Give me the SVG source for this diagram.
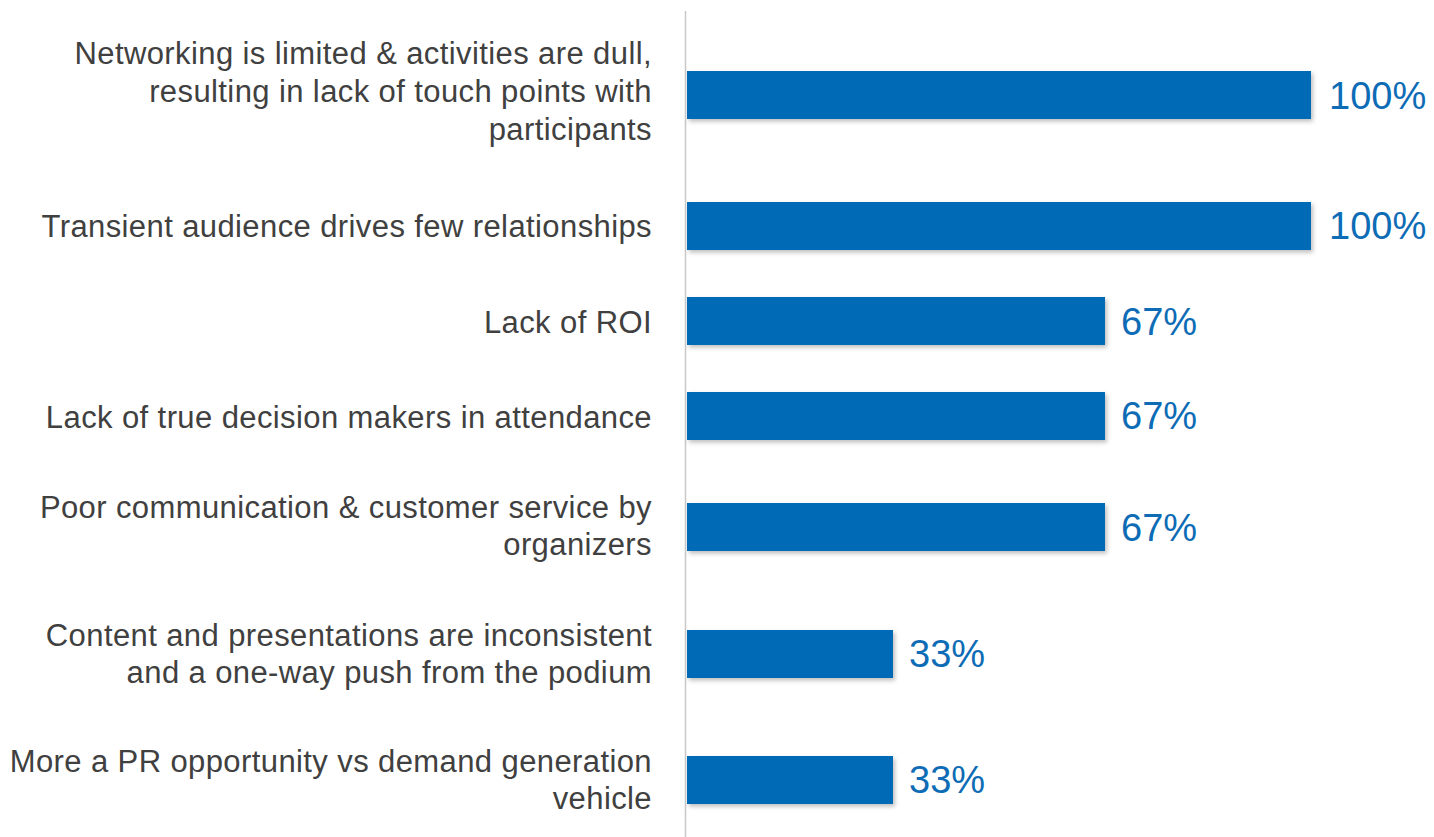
<svg xmlns="http://www.w3.org/2000/svg" width="1434" height="837" viewBox="0 0 1434 837">
<defs>
<filter id="sh" x="-5%" y="-20%" width="110%" height="150%">
<feDropShadow dx="2" dy="2.5" stdDeviation="2" flood-color="#000" flood-opacity="0.25"/>
</filter>
<style>
.lbl{font-family:"Liberation Sans",Arial,Helvetica,sans-serif;font-size:31px;letter-spacing:0.4px;fill:#404040;text-anchor:end}
.val{font-family:"Liberation Sans",Arial,Helvetica,sans-serif;font-size:38px;fill:#0d6cb5}
.bar{fill:#006bb6;filter:url(#sh)}
</style>
</defs>
<rect width="1434" height="837" fill="#ffffff"/>
<g id="axis"><line x1="685.5" y1="11" x2="685.5" y2="837" stroke="#c8c8c8" stroke-width="1.5"/></g>
<g id="bar1">
<text class="lbl" x="652" y="63.5">Networking is limited &amp; activities are dull,</text>
<text class="lbl" x="652" y="101.5">resulting in lack of touch points with</text>
<text class="lbl" x="652" y="139.5">participants</text>
<rect class="bar" x="687" y="71" width="624" height="48"/>
<text class="val" x="1329" y="109.3">100%</text>
</g>
<g id="bar2">
<text class="lbl" x="652" y="237">Transient audience drives few relationships</text>
<rect class="bar" x="687" y="202" width="624" height="48"/>
<text class="val" x="1329" y="239.3">100%</text>
</g>
<g id="bar3">
<text class="lbl" x="652" y="333">Lack of ROI</text>
<rect class="bar" x="687" y="297" width="418" height="48"/>
<text class="val" x="1121" y="335">67%</text>
</g>
<g id="bar4">
<text class="lbl" x="652" y="427.5">Lack of true decision makers in attendance</text>
<rect class="bar" x="687" y="392" width="418" height="48"/>
<text class="val" x="1121" y="429.3">67%</text>
</g>
<g id="bar5">
<text class="lbl" x="652" y="517.5">Poor communication &amp; customer service by</text>
<text class="lbl" x="652" y="554.5">organizers</text>
<rect class="bar" x="687" y="503" width="418" height="48"/>
<text class="val" x="1121" y="540.7">67%</text>
</g>
<g id="bar6">
<text class="lbl" x="652" y="645.5">Content and presentations are inconsistent</text>
<text class="lbl" x="652" y="683">and a one-way push from the podium</text>
<rect class="bar" x="687" y="630" width="206" height="48"/>
<text class="val" x="909" y="666.7">33%</text>
</g>
<g id="bar7">
<text class="lbl" x="652" y="771.5">More a PR opportunity vs demand generation</text>
<text class="lbl" x="652" y="809">vehicle</text>
<rect class="bar" x="687" y="756" width="206" height="48"/>
<text class="val" x="909" y="792.7">33%</text>
</g>
</svg>
